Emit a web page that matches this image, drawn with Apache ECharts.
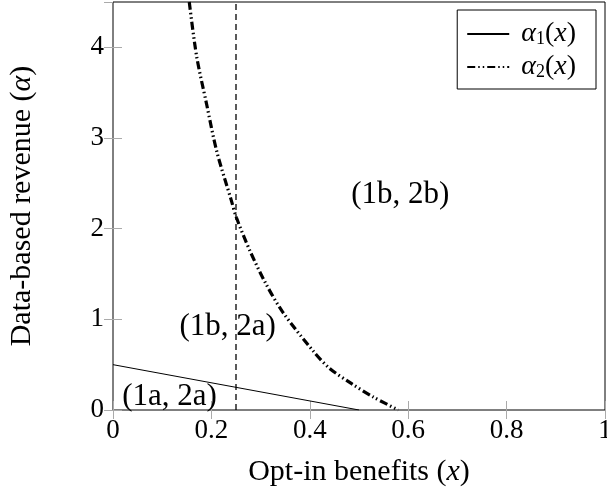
<!DOCTYPE html>
<html>
<head>
<meta charset="utf-8">
<script src="https://cdn.jsdelivr.net/npm/echarts@6/dist/echarts.min.js"></script>
<style>
  html, body { margin: 0; padding: 0; background: #fff; }
  #main { width: 607px; height: 489px; }
</style>
</head>
<body>
<div id="main"></div>
<script>
// data
const alpha1 = [[0, 0.5], [0.5, 0]]
const alpha2 = [
  [0.155, 4.5], [0.170, 3.9], [0.190, 3.38], [0.211, 2.85], [0.240, 2.32],
  [0.251, 2.12], [0.278, 1.76], [0.310, 1.40], [0.345, 1.08], [0.407, 0.65],
  [0.440, 0.46], [0.485, 0.29], [0.530, 0.14], [0.580, 0.0]
]
const cutLine = [[0.25, 0], [0.25, 4.5]]
const regionNames = ['(1a, 2a)', '(1b, 2a)', '(1b, 2b)']
const regionPos = [[0.115, 0.14], [0.233, 0.92], [0.584, 2.37]]
const xTicks = [0, 0.2, 0.4, 0.6, 0.8, 1]
const yTicks = [0, 1, 2, 3, 4]

const serif = 'Liberation Serif'
const tickColor = '#aaa'
const myChart = echarts.init(document.getElementById('main'))

const option = {
  animation: false,
  grid: {
    left: 113,
    right: 2,
    top: 2,
    bottom: 79,
    outerBoundsMode: 'none',
    show: true,
    borderColor: '#000',
    borderWidth: 1
  },
  legend: {
    right: 11,
    top: 10,
    orient: 'vertical',
    backgroundColor: '#fff',
    borderColor: '#000',
    borderWidth: 1,
    borderRadius: 0,
    padding: [9, 20, 7, 9],
    itemGap: 3,
    itemWidth: 42,
    itemHeight: 16,
    itemStyle: { opacity: 0 },
    data: ['a1', 'a2'],
    formatter: function (name) {
      return name === 'a1' ? ' {i|α}{s|1}({i|x})' : ' {i|α}{s|2}({i|x})'
    },
    textStyle: {
      fontFamily: serif,
      fontSize: 28,
      lineHeight: 30,
      color: '#000',
      rich: {
        i: { fontFamily: serif, fontSize: 28, fontStyle: 'italic', color: '#000' },
        s: { fontFamily: serif, fontSize: 18, color: '#000', padding: [10, 0, 0, 0] }
      }
    }
  },
  xAxis: [
    {
      type: 'value',
      min: 0,
      max: 1,
      interval: 0.2,
      name: 'Opt-in benefits ({i|x})',
      nameLocation: 'middle',
      nameGap: 47,
      nameTextStyle: {
        fontFamily: serif,
        fontSize: 30,
        color: '#000',
        rich: { i: { fontFamily: serif, fontSize: 30, fontStyle: 'italic', color: '#000' } }
      },
      axisLine: { show: false },
      axisTick: { show: true, inside: true, length: 9, lineStyle: { color: tickColor } },
      axisLabel: {
        fontFamily: serif,
        fontSize: 27,
        color: '#000',
        margin: 7,
        formatter: v => (xTicks.indexOf(v) >= 0 ? String(v) : '')
      },
      splitLine: { show: false }
    },
    {
      type: 'value',
      position: 'top',
      min: 0,
      max: 1,
      interval: 0.2,
      axisLine: { show: false },
      axisTick: { show: true, inside: true, length: 9, lineStyle: { color: tickColor } },
      axisLabel: { show: false },
      splitLine: { show: false }
    }
  ],
  yAxis: [
    {
      type: 'value',
      min: 0,
      max: 4.5,
      interval: 1,
      name: 'Data-based revenue ({i|α})',
      nameLocation: 'middle',
      nameGap: 76,
      nameTextStyle: {
        fontFamily: serif,
        fontSize: 30,
        color: '#000',
        rich: { i: { fontFamily: serif, fontSize: 30, fontStyle: 'italic', color: '#000' } }
      },
      axisLine: { show: false },
      axisTick: { show: true, inside: true, length: 9, lineStyle: { color: tickColor } },
      axisLabel: {
        fontFamily: serif,
        fontSize: 27,
        color: '#000',
        margin: 9,
        showMaxLabel: false,
        formatter: v => (yTicks.indexOf(v) >= 0 ? String(v) : '')
      },
      splitLine: { show: false }
    },
    {
      type: 'value',
      position: 'right',
      min: 0,
      max: 4.5,
      interval: 1,
      axisLine: { show: false },
      axisTick: { show: true, inside: true, length: 9, lineStyle: { color: tickColor } },
      axisLabel: { show: false },
      splitLine: { show: false }
    }
  ],
  series: [
    {
      name: 'a1',
      type: 'line',
      data: alpha1,
      symbol: 'circle',
      showSymbol: false,
      lineStyle: { color: '#000', width: 1 },
      itemStyle: { color: '#000' },
      z: 3
    },
    {
      name: 'a2',
      type: 'line',
      data: alpha2,
      symbol: 'circle',
      showSymbol: false,
      smooth: 0.3,
      lineStyle: { color: '#000', width: 3.2, type: [8, 3, 1.5, 3, 1.5, 3] },
      itemStyle: { color: '#000' },
      z: 3
    },
    {
      name: 'cut',
      type: 'line',
      data: cutLine,
      symbol: 'none',
      lineStyle: { color: '#000', width: 1.3, type: [6, 4] },
      z: 2
    },
    {
      name: 'regions',
      type: 'scatter',
      symbolSize: 0,
      itemStyle: { opacity: 1 },
      data: regionPos.map((p, i) => ({ value: p, name: regionNames[i] })),
      label: {
        show: true,
        position: 'inside',
        formatter: '{b}',
        fontFamily: serif,
        fontSize: 31,
        color: '#000',
        opacity: 1
      },
      z: 4
    }
  ]
}
option && myChart.setOption(option)
</script>
</body>
</html>
